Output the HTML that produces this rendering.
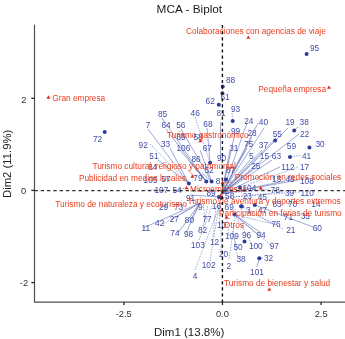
<!DOCTYPE html>
<html><head><meta charset="utf-8">
<style>
html,body{margin:0;padding:0;background:#fff;width:345px;height:339px;overflow:hidden}
svg{display:block;filter:blur(0.3px);font-family:"Liberation Sans",sans-serif}
.r{fill:#EA3C1C;font-size:8.3px;stroke:none}
.b{fill:#3E4CA8;font-size:8.3px;stroke:none}
.tk{fill:#333;font-size:9.3px}
</style></head><body>
<svg width="345" height="339" viewBox="0 0 345 339">
<text x="156.6" y="12.8" font-size="11.8" fill="#1a1a1a">MCA - Biplot</text>
<path d="M34.5 25.3V302.2H345" fill="none" stroke="#505050" stroke-width="1.2" stroke-linejoin="miter" stroke-linecap="square"/>
<g stroke="#222" stroke-width="1.3">
<line x1="31.3" y1="98.3" x2="34.4" y2="98.3"/>
<line x1="31.3" y1="190.4" x2="34.4" y2="190.4"/>
<line x1="31.3" y1="282.6" x2="34.4" y2="282.6"/>
<line x1="123.9" y1="302" x2="123.9" y2="305"/>
<line x1="222.4" y1="302" x2="222.4" y2="305"/>
<line x1="321.1" y1="302" x2="321.1" y2="305"/>
</g>
<g class="tk" text-anchor="end">
<text x="26.4" y="102.6">2</text>
<text x="26.1" y="193.9">0</text>
<text x="28.1" y="285.9">-2</text>
</g>
<g class="tk" text-anchor="middle">
<text x="123.7" y="317.2">-2.5</text>
<text x="222.4" y="317.2">0.0</text>
<text x="321.1" y="317.2">2.5</text>
</g>
<text x="154" y="336.4" font-size="11.5" fill="#222">Dim1 (13.8%)</text>
<text transform="translate(11.1,198) rotate(-90)" font-size="11.3" fill="#222">Dim2 (11.9%)</text>
<g stroke="#5060B0" stroke-width="0.55" fill="none">
<line x1="148" y1="129" x2="188.9" y2="183.6"/>
<line x1="166" y1="129" x2="206.3" y2="181.6"/>
<line x1="181" y1="129" x2="211.6" y2="181.6"/>
<line x1="150" y1="144" x2="188.9" y2="183.6" stroke-dasharray="1.5,1.2"/>
<line x1="170" y1="148" x2="188.9" y2="183.6"/>
<line x1="158" y1="160" x2="188.9" y2="183.6"/>
<line x1="162" y1="118" x2="206.3" y2="181.6"/>
<line x1="195" y1="117" x2="210.1" y2="162.7" stroke-dasharray="1.5,1.2"/>
<line x1="207" y1="128" x2="210.1" y2="162.7"/>
<line x1="220.5" y1="122" x2="220.5" y2="158"/>
<line x1="232" y1="113" x2="232.7" y2="120.9" stroke-dasharray="1.5,1.2"/>
<line x1="264" y1="128" x2="221.5" y2="194"/>
<line x1="288" y1="128" x2="221.5" y2="194"/>
<line x1="298" y1="127" x2="294.2" y2="130.4"/>
<line x1="276" y1="138" x2="221.5" y2="194"/>
<line x1="299" y1="134" x2="221.5" y2="194"/>
<line x1="252" y1="137" x2="221.5" y2="194"/>
<line x1="247" y1="148" x2="221.5" y2="194"/>
<line x1="262" y1="150" x2="221.5" y2="194"/>
<line x1="250" y1="160" x2="221.5" y2="194"/>
<line x1="262" y1="160" x2="221.5" y2="194"/>
<line x1="272" y1="160" x2="221.5" y2="194"/>
<line x1="300.5" y1="155.5" x2="291" y2="156.8" stroke-dasharray="1.5,1.2"/>
<line x1="280" y1="167" x2="221.5" y2="194"/>
<line x1="298" y1="167" x2="221.5" y2="194" stroke-dasharray="1.5,1.2"/>
<line x1="252" y1="170" x2="221.5" y2="194"/>
<line x1="285" y1="181" x2="221.5" y2="194"/>
<line x1="298" y1="180" x2="221.5" y2="194"/>
<line x1="269" y1="189" x2="221.5" y2="194" stroke-dasharray="1.5,1.2"/>
<line x1="283" y1="192" x2="221.2" y2="198" stroke-dasharray="1.5,1.2"/>
<line x1="299" y1="192" x2="221.2" y2="198" stroke-dasharray="1.5,1.2"/>
<line x1="163" y1="224" x2="200" y2="203" stroke-dasharray="1.5,1.2"/>
<line x1="143" y1="228" x2="200" y2="203"/>
<line x1="172" y1="219" x2="200" y2="203"/>
<line x1="178" y1="233" x2="200" y2="203"/>
<line x1="190" y1="221" x2="200" y2="203"/>
<line x1="186" y1="233" x2="200" y2="203"/>
<line x1="205" y1="219" x2="203" y2="203" stroke-dasharray="1.5,1.2"/>
<line x1="203" y1="226" x2="208" y2="205" stroke-dasharray="1.5,1.2"/>
<line x1="213" y1="237" x2="216" y2="206" stroke-dasharray="1.5,1.2"/>
<line x1="199" y1="240" x2="212" y2="206" stroke-dasharray="1.5,1.2"/>
<line x1="220" y1="225" x2="219" y2="206" stroke-dasharray="1.5,1.2"/>
<line x1="195" y1="270" x2="219" y2="207" stroke-dasharray="1.5,1.2"/>
<line x1="210" y1="261" x2="219" y2="206" stroke-dasharray="1.5,1.2"/>
<line x1="229" y1="259" x2="236" y2="212" stroke-dasharray="1.5,1.2"/>
<line x1="221" y1="253" x2="221" y2="230" stroke-dasharray="1.5,1.2"/>
<line x1="238" y1="259" x2="233" y2="230" stroke-dasharray="1.5,1.2"/>
<line x1="237" y1="247" x2="232" y2="232" stroke-dasharray="1.5,1.2"/>
<line x1="253" y1="246" x2="235" y2="215" stroke-dasharray="1.5,1.2"/>
<line x1="272" y1="246" x2="235" y2="215" stroke-dasharray="1.5,1.2"/>
<line x1="283" y1="229" x2="241.9" y2="206.4" stroke-dasharray="1.5,1.2"/>
<line x1="274" y1="224" x2="235" y2="215" stroke-dasharray="1.5,1.2"/>
<line x1="313" y1="227" x2="254.8" y2="205"/>
<line x1="259.3" y1="258.2" x2="263" y2="258.2"/>
<line x1="262" y1="233.5" x2="234.5" y2="214.6"/>
<line x1="275" y1="224.8" x2="249" y2="211.7" stroke-dasharray="1.5,1.2"/>
<line x1="258" y1="235" x2="234.5" y2="214.6"/>
<line x1="259" y1="260" x2="256.8" y2="267"/>
<line x1="229" y1="236" x2="226" y2="215" stroke-dasharray="1.5,1.2"/>
<line x1="190" y1="195" x2="219" y2="196.9"/>
<line x1="175" y1="190" x2="186.6" y2="187.8" stroke-dasharray="1.5,1.2"/>
<line x1="165" y1="190" x2="145" y2="190" stroke-dasharray="1.5,1.2"/>
<line x1="190" y1="162" x2="206.3" y2="181.6"/>
<line x1="180" y1="150" x2="206.3" y2="181.6"/>
<line x1="200" y1="150" x2="211.6" y2="181.6"/>
<line x1="202" y1="173" x2="211.6" y2="181.6"/>
<line x1="230" y1="150" x2="221.5" y2="194"/>
<line x1="235" y1="133" x2="221.5" y2="194"/>
<line x1="247" y1="123" x2="221.5" y2="194"/>
<line x1="258" y1="123" x2="221.5" y2="194"/>
</g>
<g stroke="#F05030" stroke-width="0.6">
<line x1="188" y1="170" x2="192.4" y2="175"/>
<line x1="200" y1="139" x2="200.4" y2="140.5"/>
<line x1="232" y1="182" x2="224" y2="182.7"/>
<line x1="222" y1="212" x2="218" y2="198"/>
<line x1="230" y1="219" x2="226.5" y2="217.5"/>
</g>
<g fill="#2A3C9E">
<circle cx="306.6" cy="54" r="2"/>
<circle cx="104.7" cy="131.9" r="2"/>
<circle cx="222.7" cy="86.6" r="2"/>
<circle cx="222.4" cy="93.3" r="2"/>
<circle cx="218.8" cy="104.8" r="2"/>
<circle cx="232.7" cy="120.9" r="2"/>
<circle cx="294.2" cy="130.4" r="2"/>
<circle cx="275.1" cy="140.4" r="2"/>
<circle cx="309.4" cy="147.4" r="2"/>
<circle cx="290" cy="157" r="2"/>
<circle cx="210.1" cy="162.7" r="2"/>
<circle cx="206.3" cy="181.6" r="2"/>
<circle cx="211.6" cy="181.6" r="2"/>
<circle cx="188.9" cy="183.6" r="2"/>
<circle cx="226" cy="179.5" r="2"/>
<circle cx="221.2" cy="198" r="2"/>
<circle cx="219" cy="196.9" r="2"/>
<circle cx="241.9" cy="206.4" r="2"/>
<circle cx="244.5" cy="241.6" r="2"/>
<circle cx="259.3" cy="258.2" r="2"/>
<circle cx="241" cy="206.2" r="2"/>
<circle cx="254.8" cy="205" r="2"/>
<circle cx="234.5" cy="214.6" r="2"/>
<circle cx="240" cy="187.5" r="2"/>
</g>
<g class="b">
<text x="310" y="51.1">95</text>
<text x="93" y="142.4">72</text>
<text x="225.9" y="83.3">88</text>
<text x="220.4" y="100.1">61</text>
<text x="205.6" y="104.19999999999999">62</text>
<text x="231" y="112.0">93</text>
<text x="216.4" y="116.1">81</text>
<text x="190.6" y="116.19999999999999">46</text>
<text x="158" y="116.89999999999999">85</text>
<text x="145.7" y="128.0">7</text>
<text x="161.5" y="128.0">64</text>
<text x="176.2" y="128.0">56</text>
<text x="203.3" y="127.39999999999999">68</text>
<text x="244.2" y="124.0">24</text>
<text x="258.8" y="124.5">40</text>
<text x="285.4" y="124.5">19</text>
<text x="299.6" y="125.39999999999999">38</text>
<text x="247.4" y="135.6">28</text>
<text x="231" y="134.2">99</text>
<text x="272.7" y="136.9">55</text>
<text x="299.9" y="137.4">22</text>
<text x="138.6" y="148.0">92</text>
<text x="161" y="147.0">33</text>
<text x="176.5" y="139.6">65</text>
<text x="193.4" y="139.6">58</text>
<text x="176.5" y="151.0">106</text>
<text x="202.7" y="150.6">67</text>
<text x="229.2" y="150.6">31</text>
<text x="243.9" y="147.0">75</text>
<text x="258.8" y="148.0">37</text>
<text x="286.8" y="149.29999999999998">59</text>
<text x="315.4" y="147.0">30</text>
<text x="149.3" y="159.2">51</text>
<text x="191.4" y="161.6">86</text>
<text x="217" y="160.9">90</text>
<text x="248.9" y="158.6">5</text>
<text x="259.8" y="159.1">15</text>
<text x="271.8" y="159.4">63</text>
<text x="302" y="159.0">41</text>
<text x="148" y="170.1">84</text>
<text x="281.3" y="170.1">112</text>
<text x="300" y="170.1">17</text>
<text x="251.2" y="169.2">25</text>
<text x="204.5" y="173.1">52</text>
<text x="226" y="173.29999999999998">87</text>
<text x="193.3" y="180.7">79</text>
<text x="215.7" y="184.2">8</text>
<text x="143.6" y="182.5">105</text>
<text x="161.3" y="181.6">57</text>
<text x="285.5" y="181.5">48</text>
<text x="300" y="184.2">108</text>
<text x="242.5" y="190.6">104</text>
<text x="270.6" y="193.0">78</text>
<text x="285" y="195.7">39</text>
<text x="300.6" y="195.7">110</text>
<text x="172.5" y="193.2">54</text>
<text x="154.5" y="193.2">107</text>
<text x="206.5" y="196.4">89</text>
<text x="225.1" y="199.2">58</text>
<text x="242.7" y="199.29999999999998">23</text>
<text x="257.7" y="200.2">45</text>
<text x="186" y="201.2">91</text>
<text x="159" y="210.1">29</text>
<text x="174" y="209.9">73</text>
<text x="198" y="209.6">9</text>
<text x="211.8" y="209.4">16</text>
<text x="224.6" y="209.6">69</text>
<text x="272.4" y="207.29999999999998">83</text>
<text x="288" y="207.29999999999998">70</text>
<text x="311.3" y="207.1">14</text>
<text x="283.8" y="219.9">71</text>
<text x="300.7" y="219.2">35</text>
<text x="169.7" y="221.79999999999998">27</text>
<text x="184.8" y="223.29999999999998">80</text>
<text x="202.5" y="221.5">77</text>
<text x="155.1" y="226.29999999999998">42</text>
<text x="141.5" y="230.7">11</text>
<text x="271.5" y="227.1">76</text>
<text x="217" y="228.0">10</text>
<text x="312.7" y="231.0">60</text>
<text x="286.2" y="232.79999999999998">21</text>
<text x="198" y="232.79999999999998">82</text>
<text x="170.3" y="235.6">74</text>
<text x="183.9" y="236.9">98</text>
<text x="225" y="238.7">109</text>
<text x="241.9" y="237.79999999999998">96</text>
<text x="256.4" y="237.79999999999998">94</text>
<text x="209.9" y="244.5">12</text>
<text x="191" y="248.4">103</text>
<text x="233.4" y="250.2">50</text>
<text x="248.9" y="249.29999999999998">100</text>
<text x="269.7" y="249.29999999999998">97</text>
<text x="218.9" y="256.5">20</text>
<text x="236.5" y="262.3">38</text>
<text x="264" y="261.1">32</text>
<text x="201.7" y="268.1">102</text>
<text x="226.4" y="268.70000000000005">2</text>
<text x="250.1" y="274.6">101</text>
<text x="192.8" y="279.20000000000005">4</text>
<text x="272" y="181.6">13</text>
<text x="246" y="212.6">3</text>
<text x="258" y="212.6">47</text>
</g>
<g fill="#E8261C">
<path d="M246.3 38.8L248.3 35.4L250.3 38.8Z"/>
<path d="M327 88.8L329 85.39999999999999L331 88.8Z"/>
<path d="M46.4 98.7L48.4 95.3L50.4 98.7Z"/>
<path d="M198.4 142.2L200.4 138.79999999999998L202.4 142.2Z"/>
<path d="M190.4 177.7L192.4 174.29999999999998L194.4 177.7Z"/>
<path d="M220.4 184.2L222.4 180.79999999999998L224.4 184.2Z"/>
<path d="M184.6 189.3L186.6 185.9L188.6 189.3Z"/>
<path d="M218.5 196.9L220.5 193.5L222.5 196.9Z"/>
<path d="M224.5 218.5L226.5 215.1L228.5 218.5Z"/>
<path d="M258.8 189.5L260.8 186.1L262.8 189.5Z"/>
<path d="M267.3 290.8L269.3 287.40000000000003L271.3 290.8Z"/>
</g>
<g class="r">
<text x="186" y="34.2">Colaboraciones con agencias de viaje</text>
<text x="258.3" y="91.8">Pequeña empresa</text>
<text x="52.2" y="101.39999999999999">Gran empresa</text>
<text x="166.8" y="137.79999999999998">Turismo gastronómico</text>
<text x="92.4" y="169.29999999999998">Turismo cultural, religioso y patrimonial</text>
<text x="78.9" y="181.0">Publicidad en medios locales</text>
<text x="234.7" y="180.1">Promoción en redes sociales</text>
<text x="190" y="192.1">Microempresas</text>
<text x="55.3" y="207.1">Turismo de naturaleza y ecoturismo</text>
<text x="187.4" y="203.9">Turismo de aventura y deportes extremos</text>
<text x="219" y="215.79999999999998">Participación en ferias de turismo</text>
<text x="223.8" y="227.5">Otros</text>
<text x="224" y="286.20000000000005">Turismo de bienestar y salud</text>
</g>
<line x1="222.4" y1="25" x2="222.4" y2="302" stroke="#111" stroke-width="1.4" stroke-dasharray="3.2,2.9"/>
<line x1="34.4" y1="190.5" x2="345" y2="190.5" stroke="#333" stroke-width="1.25" stroke-dasharray="3.4,2.9"/>
</svg>
</body></html>
